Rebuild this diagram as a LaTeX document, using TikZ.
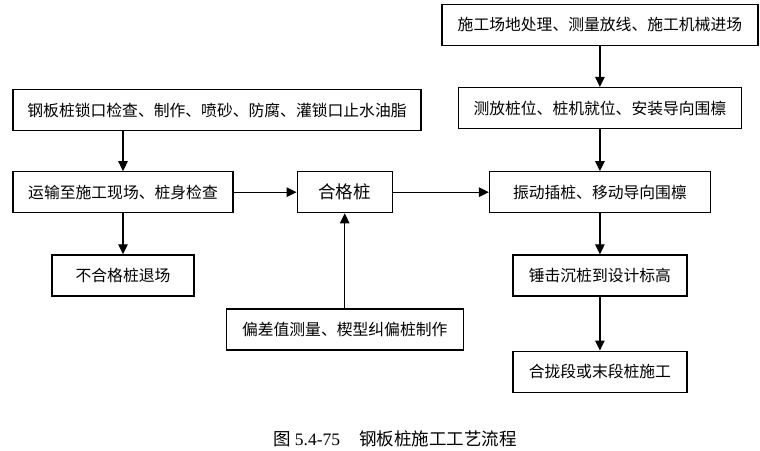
\documentclass[tikz,border=0pt]{standalone}
\usepackage{fontspec}
\setmainfont{Liberation Serif}
\newfontfamily\cjk{Noto Sans CJK SC}
\usetikzlibrary{positioning, arrows.meta}

\begin{document}
\begin{tikzpicture}[x=1pt, y=-1pt,
    box/.style={draw, line width=1.2pt, minimum height=41pt, inner sep=0pt, font=\cjk\fontsize{15.8}{20}\selectfont},
    flow/.style={draw, line width=1.3pt, -{Triangle[length=10pt, width=9.5pt]}}]
    \useasboundingbox (0,0) rectangle (760,450);
    \node[box, minimum width=408pt] (0) at (217,110) {钢板桩锁口检查、制作、喷砂、防腐、灌锁口止水油脂};
    \node[box, minimum width=220pt, below=40pt of 0.south west, anchor=north west] (1) {运输至施工现场、桩身检查};
    \node[box, minimum width=142pt, below=41pt of 1] (2) {不合格桩退场};
    \node[box, minimum width=95pt, right=63pt of 1, font=\cjk\fontsize{17.5}{20}\selectfont] (3) {合格桩};
    \node[box, minimum width=237pt, below=95pt of 3] (4) {偏差值测量、楔型纠偏桩制作};
    \node[box, minimum width=221pt, right=96pt of 3] (5) {振动插桩、移动导向围檩};
    \node[box, minimum width=283pt, above=42pt of 5] (6) {测放桩位、桩机就位、安装导向围檩};
    \node[box, minimum width=316pt, above=41pt of 6] (7) {施工场地处理、测量放线、施工机械进场};
    \node[box, minimum width=174pt, below=41pt of 5] (8) {锤击沉桩到设计标高};
    \node[box, minimum width=174pt, below=54pt of 8] (9) {合拢段或末段桩施工};
    \node[font=\fontsize{17.5}{20}\selectfont] (10) at (395,439) {{\cjk 图}\ 5.4-75\hspace{1.1em}{\cjk 钢板桩施工工艺流程}};

    \path
        (0.south -| 1.north) edge[flow] (1.north)
        (1) edge[flow] (2)
        (1) edge[flow] (3)
        (3) edge[flow] (5)
        (4.north -| 3.south) edge[flow] (3.south)
        (7.south -| 6.north) edge[flow] (6.north)
        (6) edge[flow] (5)
        (5) edge[flow] (8)
        (8) edge[flow] (9)
        ;
\end{tikzpicture}
\end{document}
